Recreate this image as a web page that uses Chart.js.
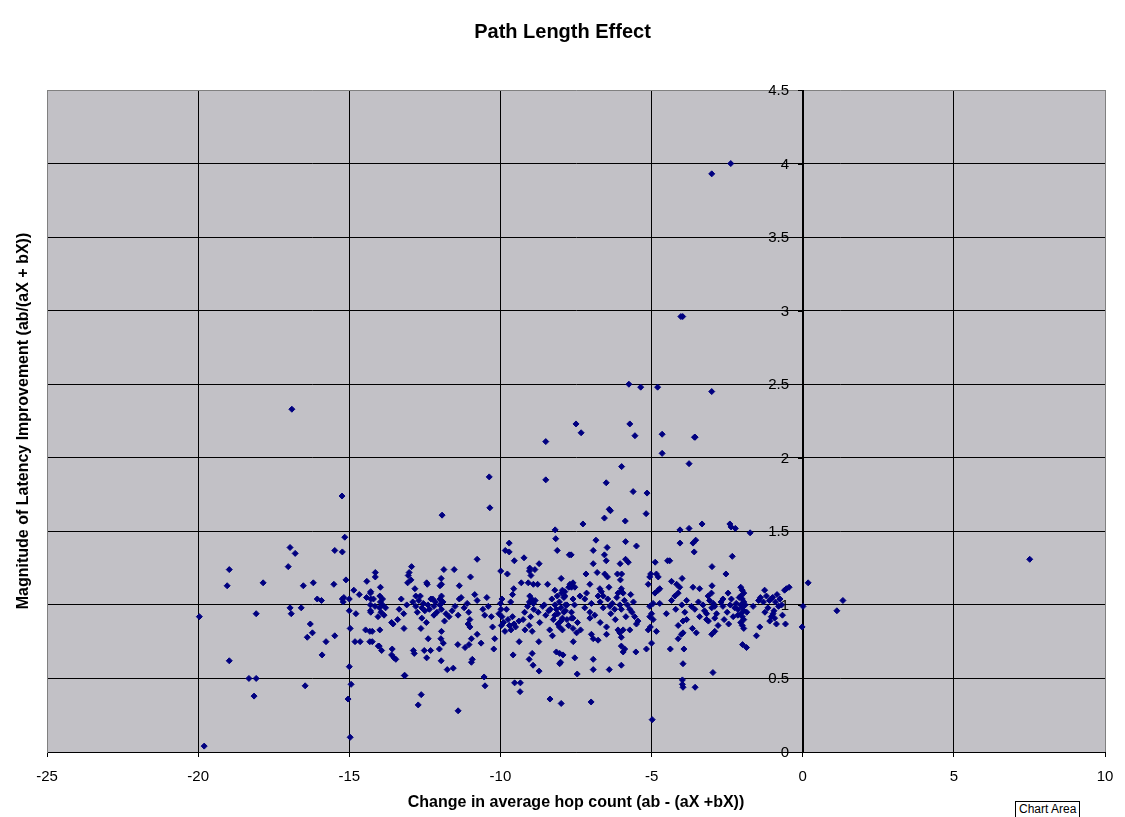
<!DOCTYPE html>
<html>
<head>
<meta charset="utf-8">
<script src="https://cdn.jsdelivr.net/npm/chart.js@4.4.1/dist/chart.umd.min.js"></script>
<style>
html,body{margin:0;padding:0;background:#fff;}
#wrap{position:relative;width:1125px;height:817px;overflow:hidden;}
canvas{display:block;}
#ca{position:absolute;left:1015px;top:801px;height:15px;line-height:15px;padding:0 3px;border:1px solid #000;border-bottom:none;background:#fff;font:12px "Liberation Sans",Arial,sans-serif;color:#000;}
</style>
</head>
<body>
<div id="wrap">
<canvas id="c" width="1125" height="817"></canvas>
<div id="ca">Chart Area</div>
</div>
<script>
// ---- Data (x = change in average hop count, y = magnitude of latency improvement) ----
const pointsFarLeft = [
[-19.96,0.92],[-19.8,0.04],[-19.04,1.13],[-18.97,1.24],[-18.97,0.62],[-18.32,0.50],[-18.08,0.50],[-18.15,0.38],
[-18.08,0.94],[-17.85,1.15],[-17.02,1.26],[-16.96,1.39],[-16.79,1.35],[-16.9,2.33],[-16.96,0.98],[-16.92,0.94],
[-16.59,0.98],[-16.52,1.13],[-16.46,0.45],[-16.29,0.87],[-16.22,0.81],[-16.39,0.78],[-16.19,1.15],[-16.06,1.04],
[-15.92,1.03],[-15.9,0.66],[-15.77,0.75],[-15.51,1.14],[-15.48,1.37],[-15.48,0.79],[-15.24,1.74],[-15.23,1.36],
[-15.15,1.46],[-15.23,1.04],[-15.18,1.05],[-15.2,1.02],[-15.11,1.17],[-15.0,1.04],[-15.0,0.96],[-15.0,0.58],
[-14.97,0.84],[-14.94,0.46],[-15.04,0.36],[-14.97,0.10],[-14.85,1.10],[-14.78,0.94],[-14.81,0.75],[-14.67,1.07],[-14.64,0.75]
];
const pointsLeft = [
[-14.42,1.16],[-14.14,1.22],[-14.14,1.19],[-14.29,1.09],[-14.43,1.05],[-14.29,1.04],[-14.29,0.95],[-14.46,0.83],
[-14.24,0.82],[-14.24,0.75],[-14.04,0.72],[-14.3,1.08],[-14.3,1.0],[-14.2,1.04],[-13.99,1.06],[-13.97,1.02],
[-13.9,1.0],[-14.0,0.98],[-13.95,0.95],[-14.05,0.92],[-13.85,0.93],[-13.8,0.98],[-14.3,0.96],[-14.15,0.99],
[-13.9,1.04],[-13.97,1.12],[-14.32,0.82],[-14.32,0.75],[-13.99,0.83],[-14.01,0.72],[-13.93,0.69],[-13.58,0.70],
[-13.6,0.66],[-13.52,0.64],[-13.46,0.63],[-13.55,0.87],[-13.19,0.84],[-13.28,1.04],[-13.18,0.52],[-13.16,0.52],
[-12.94,1.26],[-13.02,1.22],[-13.05,1.20],[-12.96,1.17],[-13.07,1.15],[-12.83,1.11],[-12.8,1.06],[-12.63,0.84],
[-12.88,0.69],[-12.85,0.67],[-12.62,0.39],[-12.72,0.32],[-12.52,0.69],[-12.44,1.15],[-12.42,1.14],[-12.44,0.64],
[-12.39,0.77],[-12.31,0.69],[-12.24,1.04],[-12.9,1.02],[-12.8,0.99],[-12.7,1.03],[-12.6,0.98],[-12.55,1.01],
[-12.5,0.96],[-12.4,1.0],[-12.35,0.97],[-12.3,1.04],[-12.2,0.99],[-12.1,0.95],[-12.6,0.91],[-12.45,0.88],
[-12.2,0.93],[-12.75,0.95],[-13.2,0.94],[-13.35,0.97],[-13.4,0.9],[-13.6,0.88],[-13.1,1.0],[-12.65,1.06],[-12.15,1.02]
];
const pointsMidLeft = [
[-11.93,1.61],[-11.87,1.24],[-11.53,1.24],[-11.96,1.18],[-11.95,1.14],[-12.0,1.13],[-11.36,1.13],[-12.0,1.04],
[-11.95,1.06],[-11.36,1.04],[-12.0,1.0],[-11.95,0.97],[-11.9,1.02],[-11.8,0.94],[-11.7,0.92],[-11.6,0.96],
[-11.5,0.99],[-11.4,0.93],[-11.85,0.89],[-11.2,0.98],[-11.1,1.01],[-11.3,1.05],[-11.95,0.82],[-11.97,0.77],
[-11.89,0.74],[-12.02,0.70],[-11.96,0.62],[-11.76,0.56],[-11.56,0.57],[-11.41,0.73],[-11.17,0.71],[-11.04,0.73],
[-10.96,0.77],[-10.77,0.80],[-10.64,0.74],[-10.93,0.63],[-10.96,0.61],[-11.4,0.28],[-10.99,1.19],[-10.85,1.07],
[-10.77,1.31],[-10.77,1.03],[-10.58,0.97],[-10.52,0.93],[-11.05,0.95],[-11.01,0.90],[-11.07,0.87],[-11.01,0.85],
[-10.37,1.87],[-10.35,1.66],[-10.54,0.51],[-10.51,0.45],[-10.19,0.77],[-10.22,0.70],[-10.26,0.85],[-10.4,0.99],
[-10.3,0.92],[-10.45,1.05],[-9.99,1.23],[-9.77,1.21],[-9.71,1.42],[-9.84,1.37],[-9.71,1.36],[-9.54,1.30],
[-9.56,1.11],[-9.6,1.07],[-9.66,1.02],[-9.95,1.04],[-10.0,1.01],[-9.98,0.97],[-9.95,0.92],[-9.9,0.88],
[-9.97,0.86],[-10.05,0.94],[-9.8,0.97],[-9.75,0.9],[-9.7,0.86],[-9.6,0.92],[-9.65,0.83],[-9.55,0.87],
[-9.85,0.82],[-9.5,0.85],[-9.58,0.66],[-9.53,0.47]
];
const pointsMid = [
[-9.39,0.89],[-9.34,0.47],[-9.35,0.41],[-9.38,0.75],[-9.31,1.15],[-9.22,1.32],[-9.19,0.83],[-9.03,1.25],
[-8.86,1.24],[-9.04,1.23],[-8.99,1.20],[-9.08,1.15],[-8.91,1.14],[-8.77,1.14],[-9.03,1.06],[-8.97,1.04],
[-9.04,1.02],[-8.91,1.01],[-8.72,1.28],[-8.73,0.75],[-8.95,0.67],[-9.05,0.63],[-8.92,0.59],[-8.72,0.55],
[-8.5,1.85],[-8.5,2.11],[-8.44,1.14],[-8.36,0.36],[-8.28,0.79],[-8.37,0.83],[-8.19,1.51],[-8.17,1.45],
[-8.12,1.37],[-8.2,1.10],[-7.95,1.10],[-7.99,1.18],[-7.87,1.06],[-7.74,1.12],[-7.72,1.34],[-8.15,0.68],
[-8.04,0.67],[-8.01,0.61],[-8.04,0.60],[-7.99,0.33],[-9.2,0.95],[-9.1,0.99],[-9.0,0.92],[-8.9,0.97],
[-8.85,1.03],[-8.75,0.95],[-8.7,0.88],[-8.6,0.99],[-9.05,0.86],[-8.95,0.82],[-9.25,0.9],[-8.5,0.93],
[-8.55,1.0],[-8.4,0.96],[-8.3,1.04],[-8.2,1.0],[-8.15,0.97],[-8.1,0.94],[-8.05,1.02],[-8.0,0.98],
[-7.95,0.91],[-7.9,1.05],[-8.25,0.9],[-8.1,0.87],[-7.85,0.96],[-8.2,0.93],[-8.0,0.89],[-7.98,1.08],
[-8.12,1.06],[-7.8,1.0],[-8.35,0.97],[-8.05,0.85],[-7.7,1.14],[-7.6,1.15],[-7.54,1.12],[-7.87,1.09],
[-7.65,1.12],[-7.66,1.34],[-7.5,2.23],[-7.33,2.17],[-7.27,1.55],[-7.17,1.21],[-7.15,1.08],[-7.37,1.06],
[-7.21,1.04],[-7.21,0.98],[-7.04,1.14],[-7.04,0.95],[-7.04,0.91],[-7.65,0.91],[-7.59,0.75],[-7.48,0.81],
[-7.93,0.66],[-7.54,0.64],[-7.46,0.53],[-7.85,1.0],[-7.9,0.95],[-7.8,0.9],[-7.75,0.86],[-7.95,0.83],
[-7.6,1.04],[-7.55,1.0],[-7.65,0.95],[-7.6,0.91],[-7.45,0.88],[-7.6,0.84],[-7.35,0.83]
];
const pointsMidRight = [
[-6.99,1.01],[-6.93,1.37],[-6.93,1.28],[-6.84,1.44],[-6.8,1.22],[-6.77,1.06],[-6.71,1.11],[-6.66,1.09],
[-6.6,1.06],[-6.56,1.34],[-6.55,1.21],[-6.5,1.30],[-6.5,1.83],[-6.47,1.39],[-6.46,1.19],[-6.41,1.12],
[-6.4,1.65],[-6.36,1.64],[-6.56,1.59],[-6.13,1.21],[-6.04,1.28],[-5.99,1.21],[-6.03,1.17],[-5.99,1.94],
[-6.0,1.11],[-6.0,1.09],[-5.94,1.08],[-6.11,1.08],[-5.86,1.31],[-5.77,1.29],[-5.86,1.43],[-5.87,1.57],
[-5.69,1.07],[-5.75,2.50],[-5.72,2.23],[-5.55,2.15],[-5.61,1.77],[-5.5,1.40],[-5.36,2.48],[-5.18,1.62],
[-5.15,1.76],[-5.03,1.21],[-5.06,1.19],[-5.11,1.14],[-4.98,0.22],[-6.99,0.80],[-6.93,0.77],[-6.77,0.76],
[-6.88,0.93],[-6.6,0.98],[-6.38,0.99],[-6.22,0.97],[-6.05,1.0],[-6.0,0.97],[-5.72,0.97],[-6.49,0.85],
[-6.49,0.80],[-6.11,0.83],[-6.05,0.81],[-5.94,0.83],[-6.0,0.78],[-5.72,0.83],[-5.56,0.92],[-5.45,0.89],
[-5.5,0.87],[-6.93,0.63],[-6.93,0.56],[-6.4,0.56],[-6.0,0.59],[-6.0,0.72],[-5.89,0.70],[-5.94,0.68],
[-5.52,0.68],[-5.17,0.70],[-5.0,0.74],[-5.11,0.83],[-5.04,0.85],[-4.84,0.82],[-4.95,0.90],[-5.06,0.92],
[-5.0,0.94],[-4.95,1.01],[-5.06,0.99],[-7.0,0.34],[-6.7,1.02],[-6.45,1.04],[-6.3,1.01],[-6.15,1.05],
[-5.9,1.03],[-5.8,1.0],[-5.6,1.02],[-6.35,0.94],[-6.2,0.9],[-5.85,0.92],[-6.7,0.88],[-5.65,0.95],
[-4.89,1.08],[-4.78,1.10],[-4.73,1.11],[-4.84,1.21],[-4.78,1.19],[-4.88,1.29],[-4.8,2.48],[-4.73,1.01],
[-4.65,2.16],[-4.65,2.03],[-4.51,0.94]
];
const pointsRight = [
[-4.47,1.30],[-4.4,1.30],[-4.34,1.16],[-4.17,1.14],[-4.07,1.12],[-3.99,1.18],[-4.34,1.03],[-4.23,1.06],
[-4.12,1.08],[-4.06,1.51],[-4.06,1.42],[-4.03,2.96],[-3.97,2.96],[-3.98,0.49],[-3.98,0.46],[-3.96,0.44],
[-3.96,0.60],[-4.38,0.70],[-3.93,0.70],[-4.12,0.77],[-4.01,0.80],[-3.96,0.81],[-4.12,0.86],[-3.96,0.89],
[-3.84,0.90],[-3.65,0.84],[-3.52,0.81],[-3.84,1.03],[-3.76,1.96],[-3.76,1.52],[-3.68,0.99],[-3.63,1.42],
[-3.63,1.12],[-3.59,1.36],[-3.58,2.14],[-3.56,2.14],[-3.57,0.97],[-3.56,0.44],[-3.54,1.44],[-3.41,1.11],
[-3.41,0.92],[-3.33,1.55],[-3.18,0.94],[-3.18,0.90],[-3.13,1.06],[-3.12,0.89],[-3.08,1.03],[-3.02,1.08],
[-3.01,3.93],[-3.01,2.45],[-3.0,1.26],[-3.0,1.13],[-3.01,0.98],[-3.01,0.80],[-2.97,0.54],[-2.96,1.01],
[-2.91,0.99],[-2.91,0.82],[-2.91,0.91],[-2.85,0.94],[-2.8,0.86],[-2.64,0.99],[-2.64,1.04],[-2.54,1.21],
[-2.47,1.08],[-2.41,1.55],[-2.38,4.0],[-2.37,1.53],[-2.36,1.04],[-2.33,1.33],[-2.23,1.52],[-2.5,0.95],
[-2.4,1.0],[-2.3,0.92],[-2.25,0.98],[-2.6,0.9],[-2.7,1.02],[-2.45,0.87],[-3.3,1.0],[-3.25,0.96],
[-3.45,1.02],[-4.0,1.0],[-4.2,0.97],[-3.9,0.95],
[-2.05,1.12],[-2.0,1.1],[-1.95,1.08],[-2.05,1.06],[-2.0,1.04],[-1.95,1.02],[-2.05,1.0],[-2.0,0.98],
[-1.95,0.96],[-2.05,0.94],[-2.0,0.92],[-1.95,0.9],[-2.05,0.88],[-2.0,0.86],[-1.95,0.84],[-2.1,1.05],
[-2.15,0.97],[-2.2,1.01],[-2.15,0.93],[-1.9,1.0],[-1.85,0.95],[-1.99,0.73],[-1.86,0.71],[-1.74,1.49],
[-1.64,0.99],[-1.53,0.79],[-1.46,1.03]
];
const pointsFarRight = [
[-1.42,0.85],[-1.26,1.10],[-1.4,1.05],[-1.3,1.02],[-1.2,1.06],[-1.1,1.03],[-1.0,1.05],[-0.9,1.02],
[-0.85,1.07],[-0.75,1.04],[-0.8,0.99],[-1.15,0.98],[-1.25,0.95],[-0.95,0.96],[-0.7,1.0],[-0.98,0.94],
[-1.04,0.92],[-0.93,0.91],[-1.09,0.89],[-0.87,0.87],[-0.67,0.93],[-0.57,0.87],[-0.6,1.10],[-0.54,1.11],
[-0.45,1.12],[0.01,0.99],[-0.02,0.85],[0.18,1.15],[1.13,0.96],[1.33,1.03],[7.51,1.31]
];

const xTickValues = [-25,-20,-15,-10,-5,0,5,10];
const xTickLabels = ['-25','-20','-15','-10','-5','0','5','10'];
const yTickValues = [0,0.5,1,1.5,2,2.5,3,3.5,4,4.5];
const yTickLabels = ['0','0.5','1','1.5','2','2.5','3','3.5','4','4.5'];

const titleText = 'Path Length Effect';
const xTitleText = 'Change in average hop count (ab - (aX +bX))';
const yTitleText = 'Magnitude of Latency Improvement (ab/(aX + bX))';

// ---- Build ----
const FONT = '"Liberation Sans", Arial, sans-serif';
const allPoints = [].concat(pointsFarLeft, pointsLeft, pointsMidLeft, pointsMid, pointsMidRight, pointsRight, pointsFarRight)
  .map(p => ({x: p[0], y: p[1]}));

const bgPlugin = {
  id: 'bgPlugin',
  beforeDraw(chart) {
    const {ctx, chartArea: a} = chart;
    ctx.save();
    ctx.fillStyle = '#fff';
    ctx.fillRect(0, 0, chart.width, chart.height);
    ctx.fillStyle = '#C2C1C6';
    ctx.fillRect(a.left, a.top, a.right - a.left, a.bottom - a.top);
    ctx.restore();
  }
};

const yAxisAtZero = {
  id: 'yAxisAtZero',
  beforeDatasetsDraw(chart) {
    const {ctx, scales: {x, y}} = chart;
    const px = Math.round(x.getPixelForValue(0));
    ctx.save();
    ctx.font = '15px ' + FONT;
    ctx.fillStyle = '#000';
    ctx.strokeStyle = '#000';
    ctx.lineWidth = 1;
    ctx.textAlign = 'right';
    ctx.textBaseline = 'middle';
    yTickValues.forEach((v, i) => {
      const py = Math.round(y.getPixelForValue(v));
      ctx.beginPath();
      ctx.moveTo(px - 5, py + 0.5);
      ctx.lineTo(px + 0.5, py + 0.5);
      ctx.stroke();
      ctx.fillText(yTickLabels[i], px - 14, py + 1);
    });
    ctx.beginPath();
    ctx.moveTo(px + 0.5, y.getPixelForValue(4.5));
    ctx.lineTo(px + 0.5, y.getPixelForValue(0));
    ctx.stroke();
    ctx.restore();
  }
};

new Chart(document.getElementById('c'), {
  type: 'scatter',
  data: {
    datasets: [{
      data: allPoints,
      pointStyle: 'rectRot',
      pointRadius: 3,
      pointBorderWidth: 1,
      backgroundColor: '#000080',
      borderColor: '#000080'
    }]
  },
  plugins: [bgPlugin, yAxisAtZero],
  options: {
    responsive: false,
    animation: false,
    devicePixelRatio: 1,
    layout: {padding: {left: 0, right: 0, top: 0, bottom: 0}},
    plugins: {
      legend: {display: false},
      tooltip: {enabled: false},
      title: {
        display: true,
        text: titleText,
        color: '#000',
        font: {family: FONT, size: 20, weight: 'bold'},
        padding: {top: 20, bottom: 46}
      }
    },
    scales: {
      x: {
        type: 'linear',
        min: -25, max: 10,
        afterBuildTicks(s) { s.ticks = xTickValues.map(v => ({value: v})); },
        afterFit(s) { s.height = 65; },
        ticks: {
          callback: (v, i) => xTickLabels[i],
          color: '#000',
          font: {family: FONT, size: 15},
          padding: 11,
          maxRotation: 0,
          autoSkip: false
        },
        grid: {
          color: c => (c.tick && (c.tick.value === -25 || c.tick.value === 10)) ? '#808080' : '#000',
          tickColor: '#000',
          tickLength: 5,
          lineWidth: 1
        },
        border: {color: '#000', width: 1},
        title: {
          display: true,
          text: xTitleText,
          color: '#000',
          font: {family: FONT, size: 16, weight: 'bold'},
          padding: {top: 0, bottom: 4.4}
        }
      },
      y: {
        type: 'linear',
        min: 0, max: 4.5,
        afterBuildTicks(s) { s.ticks = yTickValues.map(v => ({value: v})); },
        afterFit(s) { s.width = 47; },
        ticks: {display: false},
        grid: {
          color: c => (c.tick && c.tick.value === 4.5) ? '#808080' : '#000',
          drawTicks: false,
          lineWidth: 1
        },
        border: {color: '#808080', width: 1},
        title: {
          display: true,
          text: yTitleText,
          color: '#000',
          font: {family: FONT, size: 16, weight: 'bold'},
          padding: {top: 14.4, bottom: 0}
        }
      },
      yRightSpace: {
        type: 'linear',
        position: 'right',
        min: 0, max: 4.5,
        afterFit(s) { s.width = 20; },
        ticks: {display: false},
        grid: {display: false, drawTicks: false},
        border: {display: false}
      }
    }
  }
});
</script>
</body>
</html>
